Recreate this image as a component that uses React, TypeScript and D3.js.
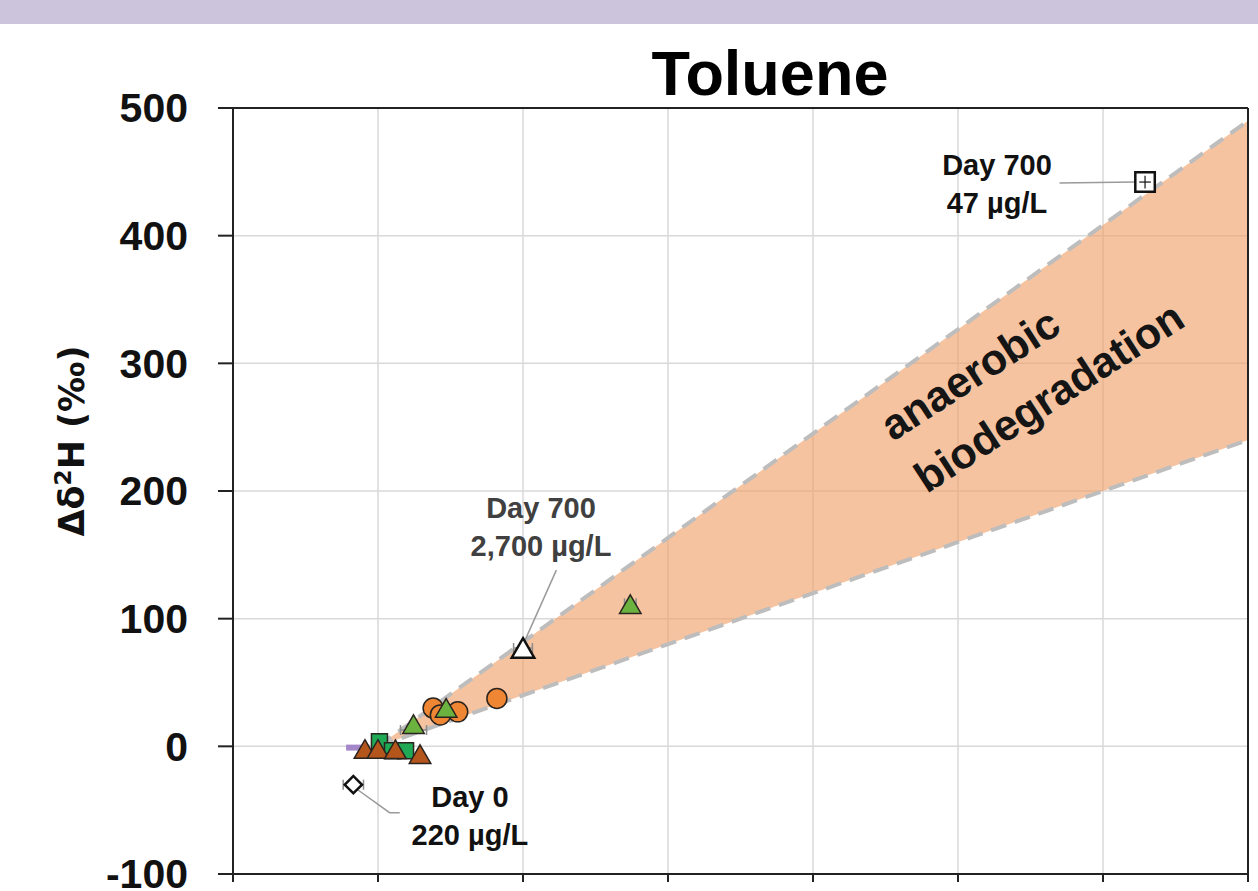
import React from "react";
import * as d3 from "d3";

// ---- data (x: Δδ13C-like units, y: Δδ2H ‰) ----
const xTicks = [-1, 0, 1, 2, 3, 4, 5, 6];
const yTicks = [-100, 0, 100, 200, 300, 400, 500];

const wedgeX = [0, 6];
const wedgeUpper = [0, 490];
const wedgeLower = [0, 240];

const orangeCircles = [
  { x: 0.38, y: 30 },
  { x: 0.43, y: 24.6 },
  { x: 0.55, y: 27 },
  { x: 0.82, y: 37.5 },
];
const greenTriangles = [
  { x: 1.74, y: 109 },
  { x: 0.245, y: 15 },
  { x: 0.47, y: 27.7 },
];
const brownTriangles = [
  { x: -0.09, y: -4.5 },
  { x: 0.0, y: -4.5 },
  { x: 0.12, y: -4.7 },
  { x: 0.29, y: -8.5 },
];
const greenSquares = [
  { x: 0.01, y: 3.5 },
  { x: 0.1, y: -3.5 },
  { x: 0.19, y: -3.5 },
];
const purpleBar = [{ x0: -0.22, x1: -0.06, y: -1 }];
const whiteSquare = [{ x: 5.29, y: 442 }];
const whiteTriangle = [{ x: 1.0, y: 74.5 }];
const whiteDiamond = [{ x: -0.17, y: -30 }];
const errorBars = [
  { x: 1.0, y: 77, dx: 0.065 },
  { x: 0.245, y: 12.8, dx: 0.09 },
  { x: 1.74, y: 112, dx: 0.04 },
  { x: -0.17, y: -30, dx: 0.07 },
];

const annotations = [
  { x: 4.269, y: 447.6, l1: "Day 700", l2: "47 µg/L", color: "#111111" },
  { x: 1.124, y: 178.9, l1: "Day 700", l2: "2,700 µg/L", color: "#404040" },
  { x: 0.634, y: -47.5, l1: "Day 0", l2: "220 µg/L", color: "#111111" },
];
const connectors = [
  [
    [4.7, 441.3],
    [5.22, 442],
  ],
  [
    [1.23, 138],
    [1.01, 82],
  ],
  [
    [-0.14, -34],
    [0.08, -52],
    [0.15, -52],
  ],
];
const regionLabel = { x: 3.552, y: 238.4, angle: -33, l1: "anaerobic", l2: "biodegradation" };

const W = 1258;
const H = 891;

export default function App() {
  const x = d3.scaleLinear().domain([-1, 6]).range([233, 1248]);
  const y = d3.scaleLinear().domain([-100, 500]).range([874, 108]);

  const wedgeData = wedgeX.map((v, i) => ({ x: v, lo: wedgeLower[i], hi: wedgeUpper[i] }));
  const area = d3
    .area<any>()
    .x((d) => x(d.x))
    .y0((d) => y(d.lo))
    .y1((d) => y(d.hi));
  const lineHi = d3
    .line<any>()
    .x((d) => x(d.x))
    .y((d) => y(d.hi));
  const lineLo = d3
    .line<any>()
    .x((d) => x(d.x))
    .y((d) => y(d.lo));
  const connLine = d3
    .line<number[]>()
    .x((d) => x(d[0]))
    .y((d) => y(d[1]));

  const tri = d3.symbol(d3.symbolTriangle, 200)()!;
  const triW = d3.symbol(d3.symbolTriangle, 220)()!;
  const sq = d3.symbol(d3.symbolSquare, 256)()!;
  const sqW = d3.symbol(d3.symbolSquare, 380)()!;
  const dia = d3.symbol(d3.symbolSquare, 150)()!;

  const font = "'Liberation Sans', Arial, sans-serif";
  const stroke = "#2a2420";

  return (
    <svg
      width={W}
      height={H}
      style={{ position: "absolute", left: 0, top: 0, display: "block", background: "#fff" }}
    >
      <rect x={0} y={0} width={W} height={24} fill="#CCC3DC" />

      {/* title */}
      <text x={770} y={95} textAnchor="middle" fontFamily={font} fontWeight="bold" fontSize={63} fill="#000">
        Toluene
      </text>

      {/* grid */}
      {xTicks.slice(1, -1).map((t) => (
        <line key={"gx" + t} x1={x(t)} x2={x(t)} y1={y(500)} y2={y(-100)} stroke="#D9D9D9" strokeWidth={1.5} />
      ))}
      {yTicks.slice(1, -1).map((t) => (
        <line key={"gy" + t} x1={x(-1)} x2={x(6)} y1={y(t)} y2={y(t)} stroke="#D9D9D9" strokeWidth={1.5} />
      ))}

      {/* wedge */}
      <path d={area(wedgeData)!} fill="#F1A068" fillOpacity={0.63} />
      <path d={lineHi(wedgeData)!} fill="none" stroke="#BDBDBD" strokeWidth={4} strokeDasharray="16 9" />
      <path d={lineLo(wedgeData)!} fill="none" stroke="#BDBDBD" strokeWidth={4} strokeDasharray="16 9" />

      {/* axes & frame */}
      <line x1={x(-1)} x2={x(-1)} y1={y(500)} y2={y(-100)} stroke="#222" strokeWidth={2} />
      <line x1={x(-1)} x2={x(6)} y1={y(-100)} y2={y(-100)} stroke="#222" strokeWidth={2} />
      <line x1={x(-1)} x2={x(6)} y1={y(500)} y2={y(500)} stroke="#222" strokeWidth={2} />
      <line x1={x(6)} x2={x(6)} y1={y(500)} y2={y(-100)} stroke="#222" strokeWidth={2} />
      {yTicks.map((t) => (
        <g key={"yt" + t}>
          <line x1={x(-1) - 15} x2={x(-1)} y1={y(t)} y2={y(t)} stroke="#222" strokeWidth={2} />
          <text
            x={188}
            y={y(t)}
            dy="0.35em"
            textAnchor="end"
            fontFamily={font}
            fontWeight="bold"
            fontSize={41}
            fill="#111"
          >
            {t}
          </text>
        </g>
      ))}
      {xTicks.map((t) => (
        <line key={"xt" + t} x1={x(t)} x2={x(t)} y1={y(-100)} y2={y(-100) + 8} stroke="#222" strokeWidth={2} />
      ))}

      {/* y label */}
      <text
        transform="translate(84,441) rotate(-90)"
        textAnchor="middle"
        fontFamily="'DejaVu Sans', Verdana, sans-serif"
        fontWeight="bold"
        fontSize={35}
        fill="#111"
      >
        Δδ
        <tspan dy={-13} fontSize={23}>
          2
        </tspan>
        <tspan dy={13}>H (‰)</tspan>
      </text>

      {/* connectors */}
      {connectors.map((c, i) => (
        <path key={"c" + i} d={connLine(c)!} fill="none" stroke="#9a9a9a" strokeWidth={1.5} />
      ))}

      {/* purple bar */}
      {purpleBar.map((p, i) => (
        <line key={"pb" + i} x1={x(p.x0)} x2={x(p.x1)} y1={y(p.y)} y2={y(p.y)} stroke="#A487C9" strokeWidth={6} />
      ))}

      {/* error bars */}
      {errorBars.map((e, i) => (
        <g key={"eb" + i} stroke="#8c8c8c" strokeWidth={1.5}>
          <line x1={x(e.x - e.dx)} x2={x(e.x + e.dx)} y1={y(e.y)} y2={y(e.y)} />
          <line x1={x(e.x - e.dx)} x2={x(e.x - e.dx)} y1={y(e.y) - 5} y2={y(e.y) + 5} />
          <line x1={x(e.x + e.dx)} x2={x(e.x + e.dx)} y1={y(e.y) - 5} y2={y(e.y) + 5} />
        </g>
      ))}

      {/* markers */}
      {greenSquares.map((p, i) => (
        <path key={"gs" + i} d={sq} transform={`translate(${x(p.x)},${y(p.y)})`} fill="#1FA954" stroke={stroke} strokeWidth={1.5} />
      ))}
      {brownTriangles.map((p, i) => (
        <path key={"bt" + i} d={tri} transform={`translate(${x(p.x)},${y(p.y)})`} fill="#B4561C" stroke={stroke} strokeWidth={1.5} />
      ))}
      {orangeCircles.map((p, i) => (
        <circle key={"oc" + i} cx={x(p.x)} cy={y(p.y)} r={10} fill="#EE8634" stroke={stroke} strokeWidth={1.5} />
      ))}
      {greenTriangles.map((p, i) => (
        <path key={"gt" + i} d={tri} transform={`translate(${x(p.x)},${y(p.y)})`} fill="#6CB23F" stroke={stroke} strokeWidth={1.5} />
      ))}
      {whiteTriangle.map((p, i) => (
        <path key={"wt" + i} d={triW} transform={`translate(${x(p.x)},${y(p.y)})`} fill="#fff" stroke="#111" strokeWidth={2.5} />
      ))}
      {whiteSquare.map((p, i) => (
        <g key={"ws" + i}>
          <path d={sqW} transform={`translate(${x(p.x)},${y(p.y)})`} fill="#fff" stroke="#111" strokeWidth={2.5} />
          <line x1={x(p.x - 0.04)} x2={x(p.x + 0.04)} y1={y(p.y)} y2={y(p.y)} stroke="#111" strokeWidth={1.2} />
          <line x1={x(p.x)} x2={x(p.x)} y1={y(p.y + 5)} y2={y(p.y - 5)} stroke="#111" strokeWidth={1.2} />
        </g>
      ))}
      {whiteDiamond.map((p, i) => (
        <path key={"wd" + i} d={dia} transform={`translate(${x(p.x)},${y(p.y)}) rotate(45)`} fill="#fff" stroke="#111" strokeWidth={2.5} />
      ))}

      {/* annotations */}
      {annotations.map((a, i) => (
        <text key={"an" + i} x={x(a.x)} y={y(a.y)} textAnchor="middle" fontFamily={font} fontWeight="bold" fontSize={29} fill={a.color}>
          {a.l1}
          <tspan x={x(a.x)} dy={38}>
            {a.l2}
          </tspan>
        </text>
      ))}

      {/* region label */}
      <g transform={`translate(${x(regionLabel.x)},${y(regionLabel.y)}) rotate(${regionLabel.angle})`}>
        <text x={0} y={0} fontFamily={font} fontWeight="bold" fontSize={43} fill="#151515">
          {regionLabel.l1}
        </text>
        <text x={0} y={62} fontFamily={font} fontWeight="bold" fontSize={43} fill="#151515">
          {regionLabel.l2}
        </text>
      </g>
    </svg>
  );
}
